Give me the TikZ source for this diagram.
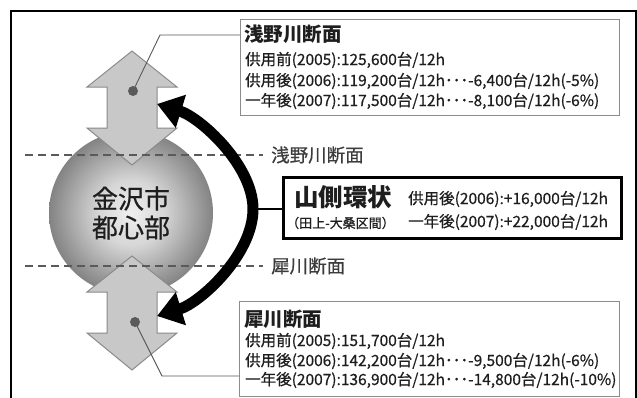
\documentclass[tikz,border=0pt]{standalone}
\usepackage{fontspec}
\setmainfont{Noto Sans CJK JP}
\newfontfamily\medjp[FakeBold=0.6]{Noto Sans CJK JP}
\usetikzlibrary{arrows.meta}
\definecolor{arrowfill}{HTML}{C8C8C8}
\definecolor{arrowline}{HTML}{8A8A8A}
\definecolor{dashcol}{HTML}{5A5A5A}
\definecolor{boxline}{HTML}{8C8C8C}
\definecolor{txt}{HTML}{1E1E1E}
\definecolor{labtxt}{HTML}{3C3C3C}
\pgfdeclareradialshading{sphereshade}{\pgfpointorigin}{color(0bp)=(black!6); color(10bp)=(black!16); color(22bp)=(black!42); color(35bp)=(black!70); color(50bp)=(black!70)}
\tikzset{
  dblarrow/.pic={
    \draw[fill=arrowfill, draw=arrowline, line width=1pt, line join=miter]
      (0,-57) -- (45,-21) -- (25,-21) -- (25,20) -- (45,20) -- (0,57)
      -- (-45,20) -- (-25,20) -- (-25,-21) -- (-45,-21) -- cycle;
  }
}
\begin{document}
\begin{tikzpicture}[x=1pt,y=-1pt,
  secline/.style={draw=dashcol, line width=2.4pt, dash pattern=on 8pt off 5pt},
  leader/.style={draw=dashcol, line width=0.9pt},
  infobox/.style={draw=boxline, fill=white, line width=1.2pt, inner sep=0pt, anchor=north west},
  tx/.style={anchor=west, inner sep=0pt, text=txt, font=\medjp\fontsize{15.5}{18}\selectfont},
  ttl/.style={anchor=west, inner sep=0pt, text=txt, font=\fontsize{19.5}{22}\selectfont\bfseries},
  seclab/.style={anchor=west, inner sep=0pt, text=labtxt, font=\medjp\fontsize{18.5}{20}\selectfont},
  dotmark/.style={circle, fill=dashcol, minimum size=10pt, inner sep=0pt},
  bigarc/.style={line width=11pt, >={Triangle[length=25pt,width=33pt]}, <->}
]
\useasboundingbox (0,0) rectangle (637,397);
\fill[white] (0,0) rectangle (637,397);
% outer frame
\draw[line width=2.6pt] (11,410) -- (11,11) -- (636,11) -- (636,410);

% city sphere
\node[circle, minimum size=164pt, inner sep=0pt, shade, shading=sphereshade,
      align=center, text=txt, font=\medjp\fontsize{26}{29}\selectfont] (city) at (131,213) {金沢市\\都心部};

% double arrows
\pic at (132,108) {dblarrow};
\pic at (132,313) {dblarrow};

% section lines
\coordinate (dA) at (25,155);
\coordinate (dB) at (25,266);
\node[seclab] (secA) at (271,155) {浅野川断面};
\node[seclab] (secB) at (271,266) {犀川断面};
\draw[secline] (dA) -- ([xshift=-8pt]secA.west);
\draw[secline] (dB) -- ([xshift=-8pt]secB.west);

% dots
\node[dotmark] (dotA) at (133,91) {};
\node[dotmark] (dotB) at (135,322) {};

% info boxes
\node[infobox, minimum width=379pt, minimum height=96pt] (boxA) at (240,19) {};
\node[infobox, minimum width=380pt, minimum height=95pt] (boxB) at (239,301) {};
\node[draw=black, fill=white, line width=2.5pt, inner sep=0pt, anchor=north west,
      minimum width=338pt, minimum height=61pt] (boxM) at (282,176) {};

% leaders
\coordinate (la) at (160,35);
\coordinate (lb) at (162,376);
\draw[leader] (dotA.center) -- (la) -- (la -| boxA.west);
\draw[leader] (dotB.center) -- (lb) -- (lb -| boxB.west);

% texts top box
\node[ttl] (tA0) at (244,34) {浅野川断面};
\node[tx] (tA1) at (245,60) {供用前(2005):125,600台/12h};
\node[tx] (tA2) at (245,81) {供用後(2006):119,200台/12h･･･-6,400台/12h(-5\%)};
\node[tx] (tA3) at (245,101) {一年後(2007):117,500台/12h･･･-8,100台/12h(-6\%)};

% texts bottom box
\node[ttl] (tB0) at (244,319) {犀川断面};
\node[tx] (tB1) at (245,341) {供用前(2005):151,700台/12h};
\node[tx] (tB2) at (245,361) {供用後(2006):142,200台/12h･･･-9,500台/12h(-6\%)};
\node[tx] (tB3) at (245,380) {一年後(2007):136,900台/12h･･･-14,800台/12h(-10\%)};

% middle box texts
\node[anchor=west, inner sep=0pt, text=txt, font=\fontsize{24.5}{26}\selectfont\bfseries] (tM0) at (294,197) {山側環状};
\node[anchor=west, inner sep=0pt, text=txt, font=\medjp\fontsize{13}{15}\selectfont] (tM1) at (286,223) {（田上-大桑区間）};
\node[tx] (tM2) at (408,199) {供用後(2006):+16,000台/12h};
\node[tx] (tM3) at (408,222) {一年後(2007):+22,000台/12h};

% curved arrow
\coordinate (tipB) at (157,316);
\coordinate (mid) at (253,209);
\coordinate (tipT) at (157,104);
\draw[line width=1.6pt] (mid) -- (mid -| boxM.west);
\draw[bigarc] (tipB) .. controls (200,302.8) and (253,255) .. (mid)
   .. controls (253,165) and (200,117.2) .. (tipT);
\end{tikzpicture}
\end{document}
